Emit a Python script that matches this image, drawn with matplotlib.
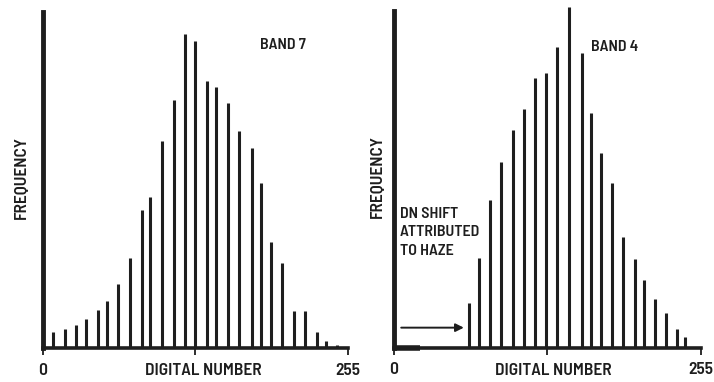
import matplotlib
matplotlib.use("Agg")
import matplotlib.pyplot as plt

# Band 7 histogram (digital number, relative frequency)
dn_b7 = [9, 19, 28, 36, 46, 54, 63, 73, 83, 90, 100, 110, 119, 127, 137, 145,
         155, 164, 175, 182, 191, 200, 210, 219, 229, 237, 246]
freq_b7 = [16, 19, 23, 29, 38, 47, 64, 90, 138, 151, 207, 248, 314, 307, 267, 261,
           245, 217, 200, 165, 106, 85, 37, 37, 16, 7, 3]

# Band 4 histogram, shifted by haze
dn_b4 = [62, 71, 80, 89, 99, 108, 117, 126, 135, 145, 156, 164, 172, 181,
         190, 200, 208, 217, 226, 235, 242]
freq_b4 = [45, 90, 147, 185, 217, 238, 269, 274, 300, 340, 294, 234, 194, 164,
           110, 89, 68, 49, 35, 19, 11]

ink = '#1e1e1e'
plt.rcParams['font.family'] = ['Barlow Semi Condensed', 'Liberation Sans', 'DejaVu Sans']
plt.rcParams['font.weight'] = 600

fig = plt.figure(figsize=(7.14, 3.82), dpi=100)
ax1 = fig.add_axes([0.0598, 0.089, 0.4276, 0.8796])
ax2 = fig.add_axes([0.5518, 0.0898, 0.43, 0.8814])


def style(ax, dn, freq, label_x):
    ax.vlines(dn, 0, freq, color=ink, lw=2.2, clip_on=False)
    ax.set_xlim(0, 255)
    ax.set_ylim(0, 336)
    for s in ['top', 'right']:
        ax.spines[s].set_visible(False)
    ax.spines['left'].set_linewidth(3.5)
    ax.spines['bottom'].set_linewidth(2.6)
    ax.spines['left'].set_color(ink)
    ax.spines['bottom'].set_color(ink)
    ax.set_yticks([])
    ax.set_xticks([0, 127.5, 255])
    ax.set_xticklabels(['0', '', '255'])
    ax.tick_params(axis='x', direction='out', length=5, width=1.3, pad=5.5,
                   labelsize=12.5, colors=ink)
    ax.text(label_x, -0.068, 'DIGITAL NUMBER', transform=ax.transAxes,
            ha='center', va='center', fontsize=12.5, color=ink)


style(ax1, dn_b7, freq_b7, 0.526)
style(ax2, dn_b4, freq_b4, 0.519)

ax1.text(-0.069, 0.507, 'FREQUENCY', transform=ax1.transAxes, rotation=90,
         ha='center', va='center', fontsize=12.5, color=ink)
ax2.text(-0.053, 0.507, 'FREQUENCY', transform=ax2.transAxes, rotation=90,
         ha='center', va='center', fontsize=12.5, color=ink)

ax1.text(181.5, 303, 'BAND 7', ha='left', va='center', fontsize=11.5, color=ink)
ax2.text(164, 300, 'BAND 4', ha='left', va='center', fontsize=11.5, color=ink)

ax2.text(5, 115, 'DN SHIFT\nATTRIBUTED\nTO HAZE', ha='left', va='center',
         fontsize=11.5, color=ink, linespacing=1.4)
ax2.annotate('', xy=(58, 20), xytext=(6, 20),
             arrowprops=dict(arrowstyle='-|>', color=ink, lw=1.4,
                             mutation_scale=12, shrinkA=0, shrinkB=0))
ax2.plot([0, 22], [0, 0], color=ink, lw=4, solid_capstyle='butt', clip_on=False)

fig.savefig('out.png', dpi=100)
